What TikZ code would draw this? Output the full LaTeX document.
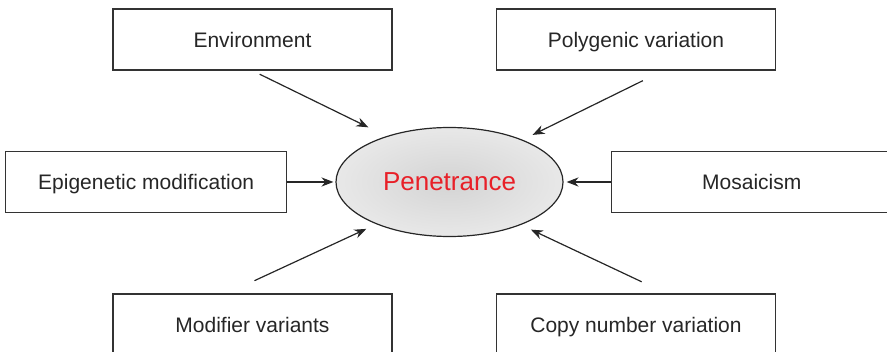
\documentclass[tikz,border=0pt]{standalone}
\usepackage{fontspec}
\setmainfont{Liberation Sans}
\usetikzlibrary{arrows.meta, positioning, shapes.geometric}
\definecolor{pentext}{RGB}{232,32,40}

\begin{document}
\begin{tikzpicture}[
        x=0.5pt, y=-0.5pt,
        box/.style={rectangle, draw=black!80, line width=0.7pt, minimum width=139.5pt, minimum height=30.5pt, align=center, inner sep=0pt, text height=9.8pt, text depth=2.2pt, text=black!85, font=\fontsize{10.5}{12}\selectfont},
        wide/.style={box, minimum width=140.5pt},
        hub/.style={ellipse, draw=black!85, line width=0.6pt, minimum width=113.5pt, minimum height=54.5pt, inner color=black!17, outer color=black!9, text=pentext, font=\fontsize{13}{15}\selectfont},
        arr/.style={-{Stealth[length=6pt, width=4.6pt]}, line width=0.6pt, draw=black!85}
        ]
        \useasboundingbox (0,0) rectangle (887,352);
        \node[hub] (pen) at (449.5,182) {Penetrance};
        \node[box] (env)  at (252.5,39.5)  {Environment};
        \node[box] (poly) at (636,39.5)    {Polygenic variation};
        \node[wide, left=24pt of pen]  (epi) {Epigenetic modification};
        \node[wide, right=23.5pt of pen] (mos) {Mosaicism};
        \node[box] (mod)  at (252.5,324.5) {Modifier variants};
        \node[box] (copy) at (636,324.5)   {Copy number variation};
        \draw[arr, shorten <=4pt, shorten >=10pt] (env.south) -- (pen.144.7);
        \draw[arr, shorten <=11.3pt, shorten >=5.5pt] (poly.311) -- (pen.30.4);
        \draw[arr, shorten >=1pt] (epi) -- (pen);
        \draw[arr, shorten >=1.5pt] (mos) -- (pen);
        \draw[arr, shorten <=15pt, shorten >=5.5pt] (mod.129.3) -- (pen.210);
        \draw[arr, shorten <=13.5pt, shorten >=5.5pt] (copy.46) -- (pen.329.6);
    \end{tikzpicture}
\end{document}
